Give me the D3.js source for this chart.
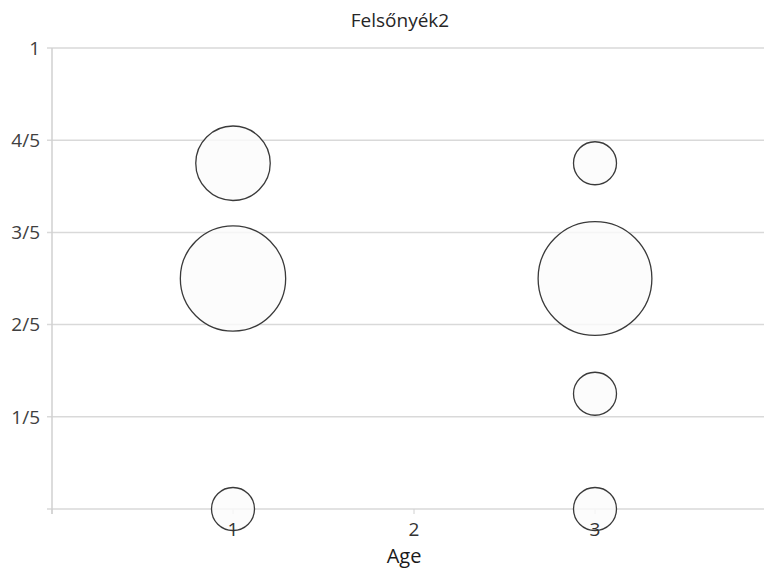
<!DOCTYPE html>
<html>
<head>
<meta charset="utf-8">
<script src="https://cdn.jsdelivr.net/npm/d3@7"></script>
<style>
  html, body { margin: 0; padding: 0; background: #fff; }
  svg { display: block; font-family: "Open Sans", "Noto Sans", sans-serif; }
</style>
</head>
<body>
<svg id="chart" width="764" height="570"></svg>
<script>
// Bubble data: age group, share, bubble size (count)
const ages   = [1, 1, 1, 3, 3, 3, 3];
const shares = [0.75, 0.5, 0, 0.75, 0.5, 0.25, 0];
const sizes  = [3, 6, 1, 1, 7, 1, 1];

const yTickValues = [0, 0.2, 0.4, 0.6, 0.8, 1];
const yTickLabels = ["", "1/5", "2/5", "3/5", "4/5", "1"];
const xTickValues = [0, 1, 2, 3];
const xTickLabels = ["", "1", "2", "3"];

const title = "Felsőnyék2";
const xTitle = "Age";

const svg = d3.select("#chart");
const W = 764, H = 570;
const plotLeft = 52, plotTop = 48, plotBottom = 509;

const x = d3.scaleLinear().domain([0, 4]).range([plotLeft, plotLeft + 4 * 181]);
const y = d3.scaleLinear().domain([0, 1]).range([plotBottom, plotTop]);
const r = d3.scaleSqrt().domain([0, 1]).range([0, 21.5]);

// horizontal gridlines
svg.append("g").selectAll("line")
  .data(yTickValues)
  .join("line")
  .attr("x1", plotLeft - 5).attr("x2", W)
  .attr("y1", d => y(d)).attr("y2", d => y(d))
  .attr("stroke", "#d9d9d9").attr("stroke-width", 1.5);

// vertical axis line
svg.append("line")
  .attr("x1", plotLeft).attr("x2", plotLeft)
  .attr("y1", plotTop).attr("y2", plotBottom + 5)
  .attr("stroke", "#d0d0d0").attr("stroke-width", 1.5);

// bottom axis ticks
svg.append("g").selectAll("line")
  .data(xTickValues)
  .join("line")
  .attr("x1", d => x(d)).attr("x2", d => x(d))
  .attr("y1", plotBottom).attr("y2", plotBottom + 5)
  .attr("stroke", "#d0d0d0").attr("stroke-width", 1);

// bubbles
svg.append("g").selectAll("circle")
  .data(ages.map((a, i) => ({ age: a, share: shares[i], size: sizes[i] })))
  .join("circle")
  .attr("cx", d => x(d.age))
  .attr("cy", d => y(d.share))
  .attr("r", d => r(d.size))
  .attr("fill", "#fbfbfb").attr("fill-opacity", 0.8)
  .attr("stroke", "#3a3a3a").attr("stroke-width", 1.3);

// y tick labels
svg.append("g").selectAll("text")
  .data(yTickValues)
  .join("text")
  .attr("x", plotLeft - 12)
  .attr("y", d => y(d))
  .attr("dy", "0.36em")
  .attr("text-anchor", "end")
  .attr("font-size", 19)
  .attr("fill", "#404040")
  .text((d, i) => yTickLabels[i]);

// x tick labels
svg.append("g").selectAll("text")
  .data(xTickValues)
  .join("text")
  .attr("x", d => x(d))
  .attr("y", plotBottom + 27)
  .attr("text-anchor", "middle")
  .attr("font-size", 19)
  .attr("fill", "#333")
  .text((d, i) => xTickLabels[i]);

// chart title
svg.append("text")
  .attr("x", 400).attr("y", 27)
  .attr("text-anchor", "middle")
  .attr("font-size", 19)
  .attr("fill", "#262626")
  .text(title);

// x axis title
svg.append("text")
  .attr("x", 404).attr("y", 563)
  .attr("text-anchor", "middle")
  .attr("font-size", 20)
  .attr("fill", "#1a1a1a")
  .text(xTitle);
</script>
</body>
</html>
